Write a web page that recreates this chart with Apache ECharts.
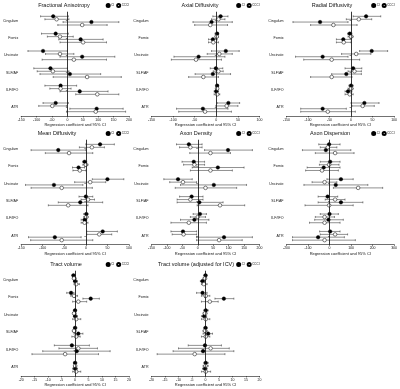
<!DOCTYPE html>
<html>
<head>
<meta charset="utf-8">
<script src="https://cdn.jsdelivr.net/npm/echarts@6/dist/echarts.min.js"></script>
<style>html,body{margin:0;padding:0;background:#fff}#chart{width:400px;height:389px}</style>
</head>
<body>
<div id="chart"></div>
<script>
var tracts = ['Cingulum', 'Fornix', 'Uncinate', 'SLF/AF', 'ILF/IFO', 'ATR'];
var groups = ['CI', 'CCCI'];

// rows: [estimate, lower, upper], four per tract (CI, CCCI, CI, CCCI)
var fractionalAnisotropy = [
  [-46,-87,3],[-35,-73,5],[78,-14,167],[48,-31,129],
  [-38,-84,3],[-24,-65,19],[43,-28,116],[51,-24,127],
  [-79,-128,0],[-24,-71,21],[48,-24,154],[21,-82,127],
  [-55,-109,0],[-47,-98,5],[8,-89,108],[64,-46,175],
  [-22,-73,30],[-22,-57,12],[40,-24,132],[97,27,167],
  [-38,-79,3],[-49,-93,-3],[95,8,181],[92,-3,189]
];
var axialDiffusivity = [
  [10,-8,27],[5,-11,20],[-11,-54,37],[-14,-50,26],
  [2,-3,5],[1,-3,5],[-8,-18,2],[-7,-18,5],
  [22,-11,53],[7,-21,37],[-41,-98,20],[-47,-104,12],
  [-1,-14,15],[5,-7,16],[-8,-49,33],[-30,-64,5],
  [2,-1,5],[2,-2,5],[0,-5,5],[2,-5,8],
  [28,2,54],[24,-1,50],[-31,-92,27],[-26,-87,35]
];
var radialDiffusivity = [
  [35,5,69],[18,-11,48],[-72,-135,-7],[-41,-94,14],
  [-3,-8,2],[0,-7,5],[-18,-34,0],[-17,-34,0],
  [48,20,85],[12,-22,46],[-66,-129,-7],[-45,-110,20],
  [5,-14,25],[8,-7,24],[-11,-45,24],[-45,-94,2],
  [0,-5,5],[0,-7,5],[-7,-14,2],[-3,-14,5],
  [31,0,65],[27,2,54],[-66,-117,-11],[-54,-117,10]
];
var meanDiffusivity = [
  [33,0,66],[14,-15,43],[-64,-127,0],[-39,-94,16],
  [-3,-7,2],[0,-7,5],[-17,-31,-3],[-14,-30,0],
  [50,15,88],[10,-26,46],[-74,-140,-7],[-56,-127,15],
  [0,-16,16],[5,-11,20],[-13,-64,39],[-41,-87,5],
  [1,-5,5],[1,-5,5],[-3,-11,2],[-3,-11,5],
  [39,2,73],[31,2,60],[-72,-133,-11],[-56,-128,16]
];
var axonDensity = [
  [-29,-69,14],[-24,-59,14],[98,22,177],[41,-26,106],
  [-13,-51,22],[-11,-46,22],[65,-18,150],[41,-24,112],
  [-64,-110,-18],[-48,-91,-4],[52,-56,158],[25,-73,126],
  [-20,-59,17],[-24,-67,17],[5,-67,82],[72,-2,152],
  [7,-15,28],[0,-24,25],[-11,-56,36],[-29,-87,28],
  [-48,-87,-4],[-46,-83,-4],[85,-4,177],[69,-4,144]
];
var axonDispersion = [
  [-2,-50,49],[-8,-43,34],[-17,-126,99],[26,-66,114],
  [3,-43,49],[-2,-47,44],[-27,-104,49],[-35,-111,41],
  [53,-12,110],[-23,-81,34],[29,-119,178],[133,18,247],
  [-9,-53,38],[26,-20,72],[53,-53,155],[-2,-114,110],
  [0,-43,41],[-23,-66,23],[-5,-69,64],[-23,-93,49],
  [3,-46,49],[26,-43,84],[-53,-172,69],[-23,-172,120]
];
var tractVolume = [
  [-0.6,-1.2,0],[-0.4,-1,0.4],[0,-0.6,0.9],[0.4,-0.4,1.6],
  [-1.5,-3.1,-0.4],[-0.4,-1.6,0.9],[5.8,2.9,9.0],[1.2,-0.9,4.3],
  [0,-0.6,0.4],[-0.4,-0.9,0.4],[0,-0.6,0.9],[0.4,-0.9,2.1],
  [0,-0.6,0.6],[-0.4,-1,0.4],[1.2,-0.4,2.9],[0.4,-1.2,1.9],
  [-1.2,-7.7,5.3],[1.2,-6,8.3],[0.6,-12,13],[-3.7,-16,8.7],
  [0,-0.6,0.6],[0,-0.6,0.6],[0,-0.9,0.9],[0.4,-0.9,2.1]
];
var tractVolumeIcv = [
  [0,-0.6,0.6],[-0.2,-0.9,0.4],[-1.1,-1.9,-0.2],[-0.6,-1.5,0.6],
  [-1.1,-3.3,0.6],[0.1,-1.5,1.6],[6.8,3.5,10.5],[1.6,-1.5,4.7],
  [0.1,-0.6,1],[-0.2,-0.9,0.6],[-0.5,-1.5,0.4],[0.1,-1.5,1.6],
  [0,-0.6,0.6],[-0.2,-0.9,0.6],[1,-0.9,2.6],[0.1,-1.5,1.6],
  [-0.2,-6.4,5.9],[1.9,-10,8.8],[-0.9,-12,10.5],[-4,-17.9,7.2],
  [0.1,-0.6,1],[0,-0.9,1],[-0.2,-1.1,0.6],[0.1,-1.5,1.9]
];

var panels = [
  {title: 'Fractional Anisotropy', data: fractionalAnisotropy, min: -150, max: 200, step: 50, col: 0, row: 0, tx: 64},
  {title: 'Axial Diffusivity', data: axialDiffusivity, min: -150, max: 100, step: 50, col: 1, row: 0, tx: 200},
  {title: 'Radial Diffusivity', data: radialDiffusivity, min: -150, max: 100, step: 50, col: 2, row: 0, tx: 332},
  {title: 'Mean Diffusivity', data: meanDiffusivity, min: -150, max: 100, step: 50, col: 0, row: 1, tx: 57},
  {title: 'Axon Density', data: axonDensity, min: -150, max: 200, step: 50, col: 1, row: 1, tx: 196},
  {title: 'Axon Dispersion', data: axonDispersion, min: -200, max: 300, step: 100, col: 2, row: 1, tx: 330},
  {title: 'Tract volume', data: tractVolume, min: -20, max: 20, step: 5, col: 0, row: 2, tx: 66},
  {title: 'Tract volume (adjusted for ICV)', data: tractVolumeIcv, min: -20, max: 20, step: 5, col: 1, row: 2, tx: 196}
];

var colLeft = [21, 151.5, 286.5];
var gridW = 108;
var rowTop = [12, 140, 271];
var rowH = [104, 104.5, 105];
var rowOffset = [-0.25, -0.08, 0.08, 0.25];
var font = 'Liberation Sans, Arial, sans-serif';
var ink = '#111';

var option = {
  animation: false,
  textStyle: {fontFamily: font},
  title: [], legend: [], grid: [], xAxis: [], yAxis: [], series: []
};

panels.forEach(function (p, i) {
  var left = colLeft[p.col], top = rowTop[p.row];
  option.grid.push({left: left, top: top, width: gridW, height: rowH[p.row]});
  option.title.push({
    text: p.title, left: p.tx, top: top - 10, textAlign: 'center', padding: 0,
    textStyle: {fontSize: 5.5, fontWeight: 'normal', color: ink, fontFamily: font}
  });
  option.legend.push({
    data: groups, right: 400 - left - gridW, top: top - 9, padding: 0,
    itemWidth: 3, itemHeight: 3, itemGap: 2,
    textStyle: {fontSize: 3, color: ink, padding: [0, 0, 0, -3.5]}
  });
  option.xAxis.push({
    type: 'value', gridIndex: i, min: p.min, max: p.max, interval: p.step,
    name: 'Regression coefficient and 95% CI', nameLocation: 'middle', nameGap: 7,
    nameTextStyle: {fontSize: 4, color: ink},
    axisLine: {lineStyle: {color: ink, width: 0.6}},
    axisTick: {length: 1.5, lineStyle: {color: ink, width: 0.5}},
    axisLabel: {fontSize: 3.5, color: ink, margin: 2},
    splitLine: {show: false}
  });
  option.yAxis.push({
    type: 'value', gridIndex: i, min: 0.5, max: 6.5, inverse: true,
    axisLine: {show: true, lineStyle: {color: ink, width: 0.6}},
    axisTick: {show: true, length: 1.5, customValues: [1, 2, 3, 4, 5, 6], lineStyle: {color: ink, width: 0.5}},
    axisLabel: {
      fontSize: 3.6, color: ink, margin: 3, customValues: [1, 2, 3, 4, 5, 6],
      formatter: function (v) { return tracts[Math.round(v) - 1]; }
    },
    splitLine: {show: false}
  });

  var bars = [], closed = [], open = [];
  p.data.forEach(function (r, k) {
    var t = Math.floor(k / 4), j = k % 4;
    var y = t + 1 + rowOffset[j];
    bars.push([r[1], r[2], y]);
    (j % 2 === 0 ? closed : open).push([r[0], y]);
  });

  option.series.push({
    type: 'custom', xAxisIndex: i, yAxisIndex: i, silent: true, z: 2,
    data: bars,
    renderItem: function (params, api) {
      var a = api.coord([api.value(0), api.value(2)]);
      var b = api.coord([api.value(1), api.value(2)]);
      var st = {stroke: '#222', lineWidth: 0.5};
      return {type: 'group', children: [
        {type: 'line', shape: {x1: a[0], y1: a[1], x2: b[0], y2: b[1]}, style: st},
        {type: 'line', shape: {x1: a[0], y1: a[1] - 1, x2: a[0], y2: a[1] + 1}, style: st},
        {type: 'line', shape: {x1: b[0], y1: b[1] - 1, x2: b[0], y2: b[1] + 1}, style: st}
      ]};
    }
  });
  option.series.push({
    name: groups[0], type: 'scatter', xAxisIndex: i, yAxisIndex: i, z: 4,
    symbol: 'circle', symbolSize: 3.6, data: closed,
    itemStyle: {color: '#000', borderColor: '#000', borderWidth: 0.4, opacity: 1},
    markLine: {
      silent: true, symbol: 'none', label: {show: false},
      lineStyle: {color: ink, width: 0.6, type: 'solid'},
      data: [{xAxis: 0}]
    }
  });
  option.series.push({
    name: groups[1], type: 'scatter', xAxisIndex: i, yAxisIndex: i, z: 4,
    symbol: 'circle', symbolSize: 3.6, data: open,
    itemStyle: {color: '#fff', borderColor: '#000', borderWidth: 0.5, opacity: 1}
  });
});

var myChart = echarts.init(document.getElementById('chart'));
myChart.setOption(option);
</script>
</body>
</html>
